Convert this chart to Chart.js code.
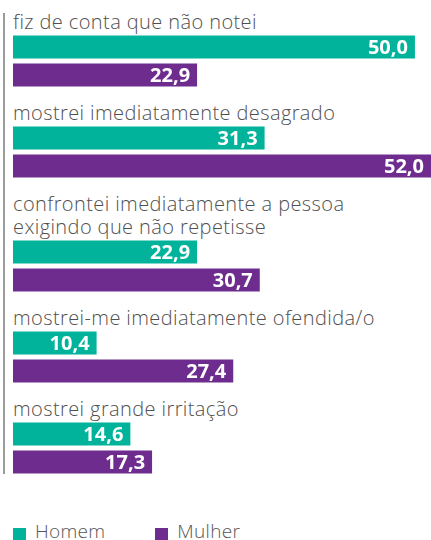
<!DOCTYPE html>
<html>
<head>
<meta charset="utf-8">
<script src="https://cdn.jsdelivr.net/npm/chart.js@4.4.1/dist/chart.umd.min.js"></script>
<style>
  body { margin: 0; background: #fff; width: 431px; height: 540px; overflow: hidden; font-family: "Open Sans", Lato, sans-serif; position: relative; font-variant-ligatures: none; }
  .axis-line { position: absolute; left: 3px; top: 13px; width: 2px; height: 461px; background: #9b9b9b; }
  #groups { position: absolute; left: 0; top: 0; width: 431px; padding-top: 10px; }
  .grp { margin-bottom: 12px; }
  .grp-label { margin-left: 13px; font-size: 20px; line-height: 23px; letter-spacing: 0.4px; color: #505050; font-weight: 300; white-space: nowrap; }
  .grp canvas { display: block; margin-left: 13px; }
  .legend { position: absolute; left: 13px; top: 519px; display: flex; font-size: 19px; line-height: 24px; letter-spacing: 0.3px; color: #555; font-weight: 300; }
  .legend-item { display: flex; align-items: center; }
  .legend-item + .legend-item { margin-left: 50px; }
  .swatch { width: 13px; height: 12px; margin-right: 9px; margin-top: 6px; }
</style>
</head>
<body>
<div class="axis-line"></div>
<div id="groups"></div>
<div class="legend" id="legend"></div>

<script>
// ===== Data =====
const categories = [
  ["fiz de conta que não notei"],
  ["mostrei imediatamente desagrado"],
  ["confrontei imediatamente a pessoa", "exigindo que não repetisse"],
  ["mostrei-me imediatamente ofendida/o"],
  ["mostrei grande irritação"],
];
const seriesNames = ["Homem", "Mulher"];
const homem = [50.0, 31.3, 22.9, 10.4, 14.6];
const mulher = [22.9, 52.0, 30.7, 27.4, 17.3];

const TEAL = "#00b39a";
const PURPLE = "#6e2c8f";
const X_MAX = 52;

const fmt = (v) => v.toFixed(1).replace(".", ",");

// white value labels at the end of each bar
const valueLabels = {
  id: "valueLabels",
  afterDatasetsDraw(chart) {
    const ctx = chart.ctx;
    ctx.save();
    ctx.fillStyle = "#fff";
    ctx.font = "700 20px 'Open Sans', Lato, sans-serif";
    ctx.textAlign = "right";
    ctx.textBaseline = "middle";
    chart.data.datasets.forEach((ds, i) => {
      chart.getDatasetMeta(i).data.forEach((bar, j) => {
        ctx.fillText(fmt(ds.data[j]), bar.x - 7, bar.y + 1);
      });
    });
    ctx.restore();
  },
};

const wrap = document.getElementById("groups");

categories.forEach((lines, i) => {
  const grp = document.createElement("div");
  grp.className = "grp";
  lines.forEach((t) => {
    const l = document.createElement("div");
    l.className = "grp-label";
    l.textContent = t;
    grp.appendChild(l);
  });
  const cv = document.createElement("canvas");
  cv.width = 418;
  cv.height = 56;
  grp.appendChild(cv);
  wrap.appendChild(grp);

  new Chart(cv, {
    type: "bar",
    data: {
      labels: [lines.join(" ")],
      datasets: [
        { label: seriesNames[0], data: [homem[i]], backgroundColor: TEAL },
        { label: seriesNames[1], data: [mulher[i]], backgroundColor: PURPLE },
      ],
    },
    options: {
      indexAxis: "y",
      responsive: false,
      animation: false,
      layout: { padding: 0 },
      datasets: { bar: { categoryPercentage: 1, barPercentage: 23 / 28 } },
      plugins: { legend: { display: false }, tooltip: { enabled: false } },
      scales: {
        x: { display: false, min: 0, max: X_MAX },
        y: { display: false },
      },
    },
    plugins: [valueLabels],
  });
});

// ===== Legend =====
const legend = document.getElementById("legend");
[TEAL, PURPLE].forEach((c, i) => {
  const item = document.createElement("div");
  item.className = "legend-item";
  item.innerHTML = `<span class="swatch" style="background:${c}"></span><span>${seriesNames[i]}</span>`;
  legend.appendChild(item);
});
</script>
</body>
</html>
